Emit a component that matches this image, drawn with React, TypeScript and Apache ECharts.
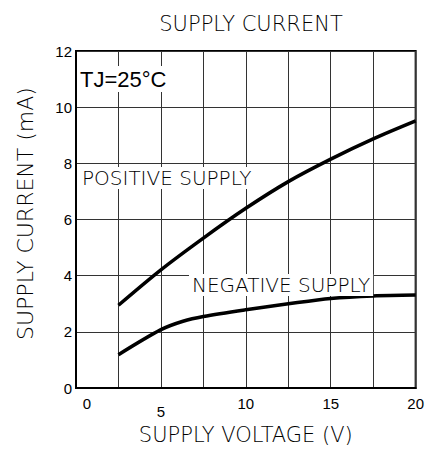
import { useEffect, useRef } from "react";
import * as echarts from "echarts";

// Supply voltage (V) and supply current (mA)
const positiveVoltage = [2.5, 5, 7.5, 10, 12.5, 15, 17.5, 20];
const positiveCurrent = [2.95, 4.21, 5.34, 6.4, 7.35, 8.15, 8.87, 9.51];
const negativeVoltage = [2.5, 5, 6.3, 7.5, 10, 12.5, 15, 17.5, 20];
const negativeCurrent = [1.19, 2.08, 2.38, 2.55, 2.79, 3.0, 3.19, 3.28, 3.31];
const xLabelValues = [0, 5, 10, 15, 20];

const TITLE = "SUPPLY CURRENT";
const X_NAME = "SUPPLY VOLTAGE (V)";
const Y_NAME = "SUPPLY CURRENT (mA)";
const TEMP_NOTE = "TJ=25°C";
const POS_LABEL = "POSITIVE SUPPLY";
const NEG_LABEL = "NEGATIVE SUPPLY";

const CAD = "DejaVu Sans";
const SANS = "Liberation Sans";
const CAD_WEIGHT = 300;

export default function App() {
  const ref = useRef<HTMLDivElement>(null);
  useEffect(() => {
    if (!ref.current) return;
    const chart = echarts.init(ref.current, undefined, { renderer: "svg" });
    const pos = positiveVoltage.map((v, i) => [v, positiveCurrent[i]]);
    const neg = negativeVoltage.map((v, i) => [v, negativeCurrent[i]]);
    chart.setOption({
      animation: false,
      backgroundColor: "#fff",
      title: {
        text: TITLE,
        left: 246,
        top: 8,
        textAlign: "center",
        textStyle: { fontFamily: CAD, fontSize: 21, fontWeight: CAD_WEIGHT, color: "#000" },
      },
      grid: {
        left: 76,
        right: 11,
        top: 51,
        bottom: 60,
        show: true,
        borderColor: "#000",
        borderWidth: 2,
      },
      xAxis: {
        type: "value",
        min: 0,
        max: 20,
        interval: 2.5,
        name: X_NAME,
        nameLocation: "middle",
        nameGap: 34,
        nameTextStyle: { fontFamily: CAD, fontSize: 21, fontWeight: CAD_WEIGHT, color: "#000" },
        axisLine: { show: true, lineStyle: { color: "#000", width: 2 } },
        axisTick: { show: false },
        splitLine: { show: true, lineStyle: { color: "#333", width: 1 } },
        axisLabel: {
          margin: 8,
          color: "#000",
          fontFamily: SANS,
          fontSize: 15,
          formatter: (v: number) => {
            if (!xLabelValues.includes(v)) return "";
            if (v === 0) return "{z|0}";
            if (v === 5) return "{f|5}";
            return String(v);
          },
          rich: {
            z: { fontFamily: SANS, fontSize: 15, color: "#000", padding: [0, 0, 0, 22] },
            f: { fontFamily: SANS, fontSize: 15, color: "#000", padding: [8, 0, 0, 0] },
          },
        },
      },
      yAxis: {
        type: "value",
        min: 0,
        max: 12,
        interval: 2,
        name: Y_NAME,
        nameLocation: "middle",
        nameGap: 40,
        nameTextStyle: { fontFamily: CAD, fontSize: 22, fontWeight: CAD_WEIGHT, color: "#000", padding: [0, 0, 0, 12] },
        axisLine: { show: true, lineStyle: { color: "#000", width: 2 } },
        axisTick: { show: false },
        splitLine: { show: true, lineStyle: { color: "#333", width: 1 } },
        axisLabel: { margin: 4, color: "#000", fontFamily: SANS, fontSize: 15 },
      },
      graphic: [
        {
          type: "text",
          z: 10,
          x: 78,
          y: 79,
          style: {
            text: TEMP_NOTE,
            font: `22px '${SANS}'`,
            fill: "#000",
            verticalAlign: "middle",
            backgroundColor: "#fff",
            padding: [2, 2],
          },
        },
        {
          type: "text",
          z: 10,
          x: 79,
          y: 178,
          style: {
            text: POS_LABEL,
            font: `${CAD_WEIGHT} 20px '${CAD}'`,
            fill: "#000",
            verticalAlign: "middle",
            backgroundColor: "#fff",
            padding: [1, 3],
          },
        },
        {
          type: "text",
          z: 10,
          x: 189,
          y: 285,
          style: {
            text: NEG_LABEL,
            font: `${CAD_WEIGHT} 20px '${CAD}'`,
            fill: "#000",
            verticalAlign: "middle",
            backgroundColor: "#fff",
            padding: [1, 3],
          },
        },
      ],
      series: [
        {
          type: "line",
          data: pos,
          smooth: 0.3,
          symbol: "none",
          lineStyle: { color: "#000", width: 3.5 },
          z: 5,
        },
        {
          type: "line",
          data: neg,
          smooth: 0.3,
          symbol: "none",
          lineStyle: { color: "#000", width: 3.5 },
          z: 5,
        },
      ],
    });
    return () => chart.dispose();
  }, []);
  return (
    <div
      ref={ref}
      style={{ position: "fixed", left: 0, top: 0, width: 427, height: 450 }}
    />
  );
}
